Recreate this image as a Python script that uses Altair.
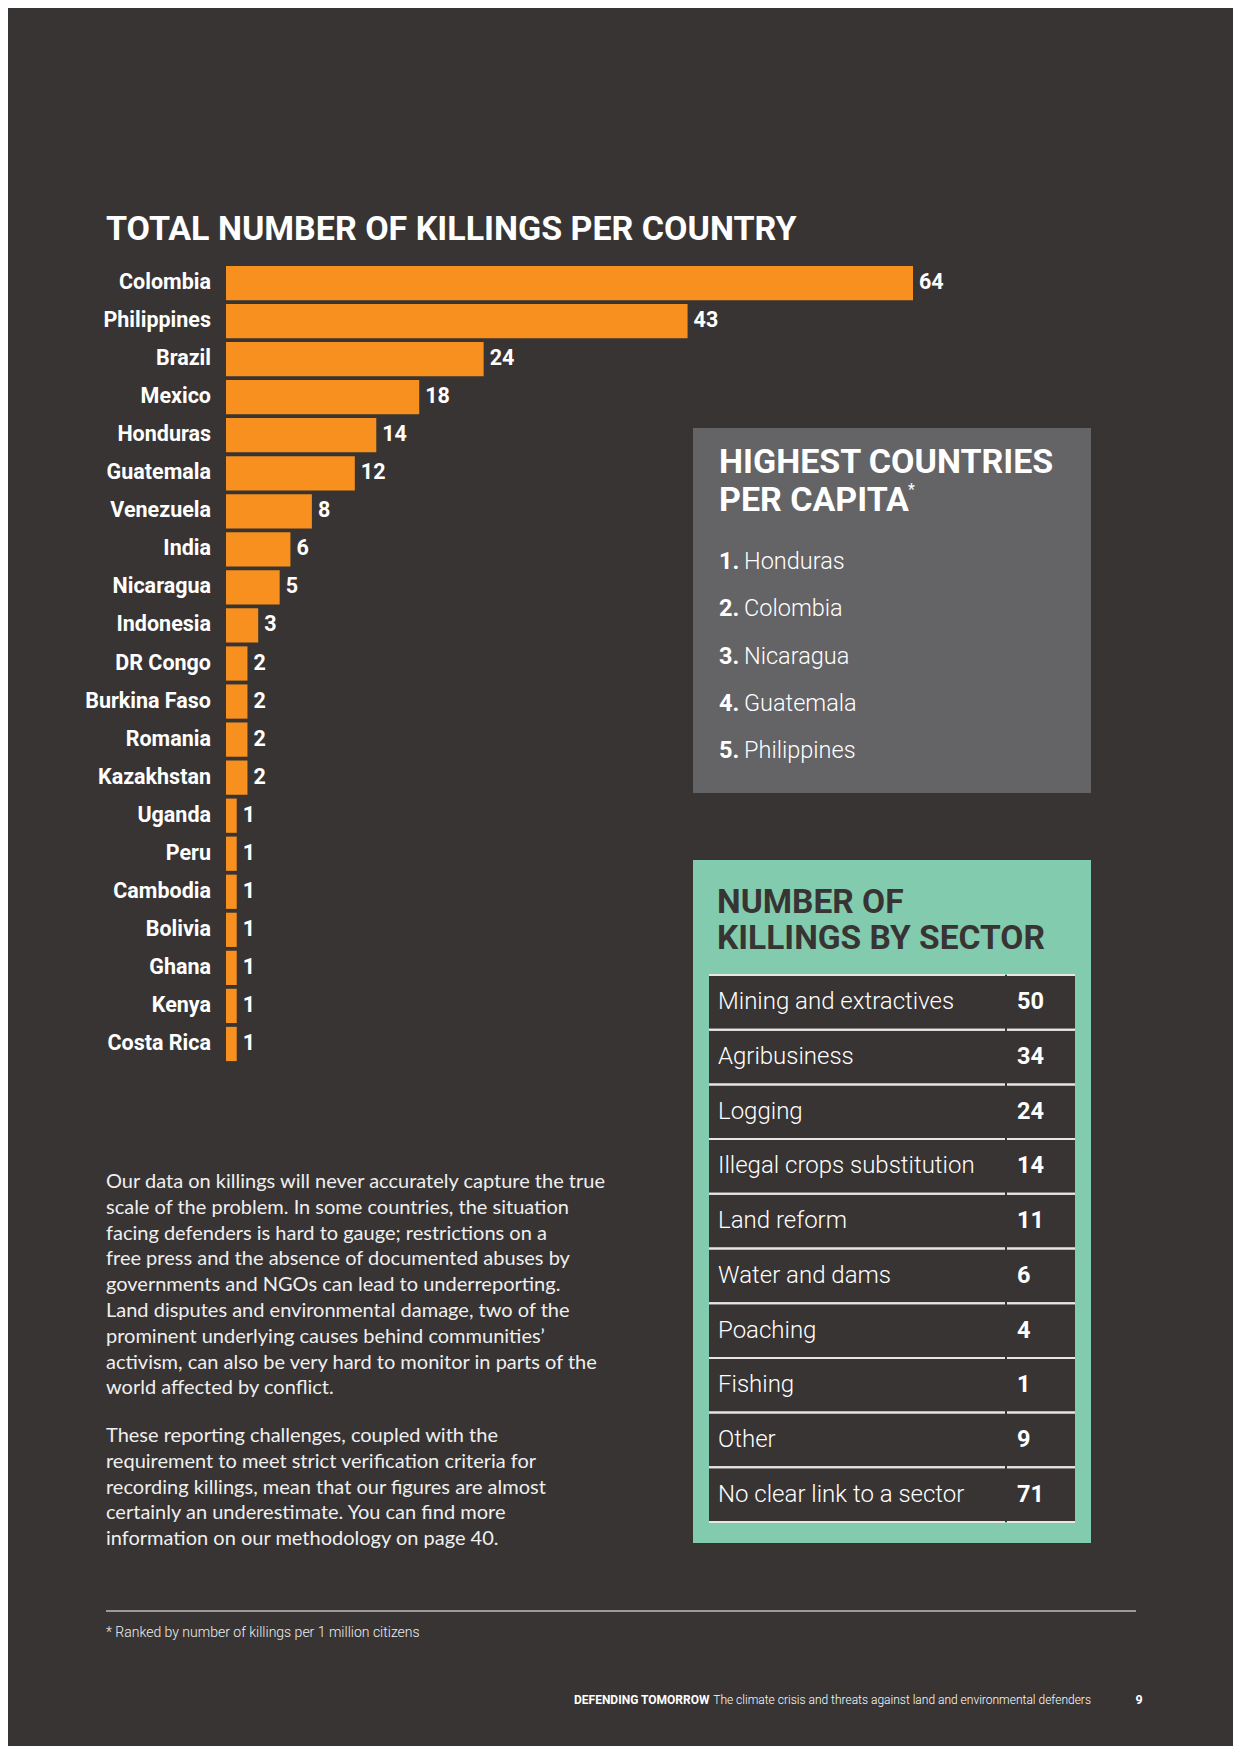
import altair as alt
import pandas as pd

# ---------------- data ----------------
countries = ["Colombia", "Philippines", "Brazil", "Mexico", "Honduras", "Guatemala",
             "Venezuela", "India", "Nicaragua", "Indonesia", "DR Congo", "Burkina Faso",
             "Romania", "Kazakhstan", "Uganda", "Peru", "Cambodia", "Bolivia", "Ghana",
             "Kenya", "Costa Rica"]
killings = [64, 43, 24, 18, 14, 12, 8, 6, 5, 3, 2, 2, 2, 2, 1, 1, 1, 1, 1, 1, 1]

per_capita_rank = [1, 2, 3, 4, 5]
per_capita_country = ["Honduras", "Colombia", "Nicaragua", "Guatemala", "Philippines"]

sectors = ["Mining and extractives", "Agribusiness", "Logging", "Illegal crops substitution",
           "Land reform", "Water and dams", "Poaching", "Fishing", "Other",
           "No clear link to a sector"]
sector_killings = [50, 34, 24, 14, 11, 6, 4, 1, 9, 71]

paragraph_1 = [
    "Our data on killings will never accurately capture the true",
    "scale of the problem. In some countries, the situation",
    "facing defenders is hard to gauge; restrictions on a",
    "free press and the absence of documented abuses by",
    "governments and NGOs can lead to underreporting.",
    "Land disputes and environmental damage, two of the",
    "prominent underlying causes behind communities\u2019",
    "activism, can also be very hard to monitor in parts of the",
    "world affected by conflict.",
]
paragraph_2 = [
    "These reporting challenges, coupled with the",
    "requirement to meet strict verification criteria for",
    "recording killings, mean that our figures are almost",
    "certainly an underestimate. You can find more",
    "information on our methodology on page 40.",
]

# ---------------- style ----------------
BG = "#383433"
ORANGE = "#F7901E"
GREY_BOX = "#646366"
GREEN = "#83CBAE"
WHITE = "#FFFFFF"
HEAD = "Roboto"
BODY = "Lato"

one = pd.DataFrame({"k": [0]})


def label(text, x, y, size, weight="normal", color=WHITE, font=HEAD, align="left",
          baseline="alphabetic", line_height=None):
    kw = dict(text=text, fontSize=size, fontWeight=weight, color=color, font=font,
              align=align, baseline=baseline)
    if line_height is not None:
        kw["lineHeight"] = line_height
    return alt.Chart(one).mark_text(**kw).encode(x=alt.value(x), y=alt.value(y))


def box(x, x2, y, y2, color):
    return alt.Chart(one).mark_rect(color=color).encode(
        x=alt.value(x), x2=alt.value(x2), y=alt.value(y), y2=alt.value(y2))


# ---------------- bar chart ----------------
bars_df = pd.DataFrame({"country": countries, "killings": killings})
y_country = alt.Y("country:N", sort=countries, axis=None,
                  scale=alt.Scale(domain=countries, range=[256, 1055],
                                  paddingInner=0.1, paddingOuter=0.05))
x_kill = alt.X("killings:Q", axis=None,
               scale=alt.Scale(domain=[0, 64], range=[218, 905], nice=False, zero=True))

bars = alt.Chart(bars_df).mark_bar(color=ORANGE).encode(x=x_kill, y=y_country)
values = alt.Chart(bars_df).mark_text(
    align="left", baseline="middle", dx=6, font=HEAD, fontSize=21.5, fontWeight="bold",
    color=WHITE).encode(x=x_kill, y=y_country, text="killings:Q")
names = alt.Chart(bars_df).mark_text(
    align="right", baseline="middle", font=HEAD, fontSize=21.5, fontWeight="bold",
    color=WHITE).encode(x=alt.value(203), y=y_country, text="country:N")

title = label("TOTAL NUMBER OF KILLINGS PER COUNTRY", 98, 232, 34, weight="bold")

# ---------------- per capita box ----------------
pc_df = pd.DataFrame({"rank": per_capita_rank, "country": per_capita_country})
pc_df["num"] = pc_df["rank"].astype(str) + "."
y_rank = alt.Y("rank:Q", axis=None,
               scale=alt.Scale(domain=[1, 5], range=[561, 750], nice=False, zero=False))
grey_box = box(685, 1083, 420, 785, GREY_BOX)
grey_t1 = label("HIGHEST COUNTRIES", 711, 465, 34, weight="bold")
grey_t2 = label("PER CAPITA", 711, 503, 34, weight="bold")
grey_star = label("*", 900, 474, 16, weight="normal", baseline="top")
pc_num = alt.Chart(pc_df).mark_text(
    align="left", baseline="alphabetic", font=HEAD, fontSize=23.5, fontWeight="bold",
    color=WHITE).encode(x=alt.value(711), y=y_rank, text="num:N")
pc_name = alt.Chart(pc_df).mark_text(
    align="left", baseline="alphabetic", font=HEAD, fontSize=23.5, fontWeight=300,
    color=WHITE).encode(x=alt.value(736), y=y_rank, text="country:N")

# ---------------- sector box ----------------
sec_df = pd.DataFrame({"sector": sectors, "killings": sector_killings})
sector_scale = dict(domain=sectors, range=[967, 1514], paddingInner=0, paddingOuter=0)
y_sector = alt.Y("sector:N", sort=sectors, axis=None, scale=alt.Scale(**sector_scale))
y_sector_top = alt.Y("sector:N", sort=sectors, axis=None, bandPosition=0,
                     scale=alt.Scale(**sector_scale))
y_sector_bot = alt.Y("sector:N", sort=sectors, axis=None, bandPosition=1,
                     scale=alt.Scale(**sector_scale))
green_box = box(685, 1083, 852, 1535, GREEN)
green_t1 = label("NUMBER OF", 709, 905, 33.5, weight="bold", color=BG)
green_t2 = label("KILLINGS BY SECTOR", 709, 941, 33.5, weight="bold", color=BG)
table_bg = box(701, 1067, 967, 1514, BG)

rule_style = dict(color="#E6E6E6", strokeWidth=2)
rules = []
for yenc in (y_sector_top, y_sector_bot):
    for (xa, xb) in ((701, 997), (999, 1067)):
        rules.append(alt.Chart(sec_df).mark_rule(**rule_style).encode(
            x=alt.value(xa), x2=alt.value(xb), y=yenc))
sec_names = alt.Chart(sec_df).mark_text(
    align="left", baseline="middle", font=HEAD, fontSize=24, fontWeight=300,
    color=WHITE).encode(x=alt.value(710), y=y_sector, text="sector:N")
sec_vals = alt.Chart(sec_df).mark_text(
    align="left", baseline="middle", font=HEAD, fontSize=23.5, fontWeight="bold",
    color=WHITE).encode(x=alt.value(1009), y=y_sector, text="killings:Q")

# ---------------- paragraph & footer ----------------
para1 = label(paragraph_1, 98, 1180, 20, color="#EFEFEF", font=BODY, line_height=25.8)
para2 = label(paragraph_2, 98, 1434, 20, color="#EFEFEF", font=BODY, line_height=25.8)

foot_rule = alt.Chart(one).mark_rule(color="#BDBDBD", strokeWidth=1.5).encode(
    x=alt.value(98), x2=alt.value(1128), y=alt.value(1603))
footnote = label("* Ranked by number of killings per 1 million citizens", 98, 1629, 14,
                 weight=300, color="#EFEFEF")
footer_bold = label("DEFENDING TOMORROW", 566, 1696, 12, weight="bold")
footer_reg = label("The climate crisis and threats against land and environmental defenders",
                   1083, 1696, 12, weight=300, align="right")
page_num = label("9", 1131, 1696, 12.5, weight="bold", align="center")

layers = [title, bars, values, names,
          grey_box, grey_t1, grey_t2, grey_star, pc_num, pc_name,
          green_box, green_t1, green_t2, table_bg] + rules + [
          sec_names, sec_vals, para1, para2, foot_rule, footnote,
          footer_bold, footer_reg, page_num]

chart = alt.layer(*layers).resolve_scale(x="independent", y="independent").properties(
    width=1225, height=1738, background=BG, padding=0, autosize="none"
).configure_view(stroke=None)

chart.save("out.html", embed_options={"renderer": "svg", "actions": False})
